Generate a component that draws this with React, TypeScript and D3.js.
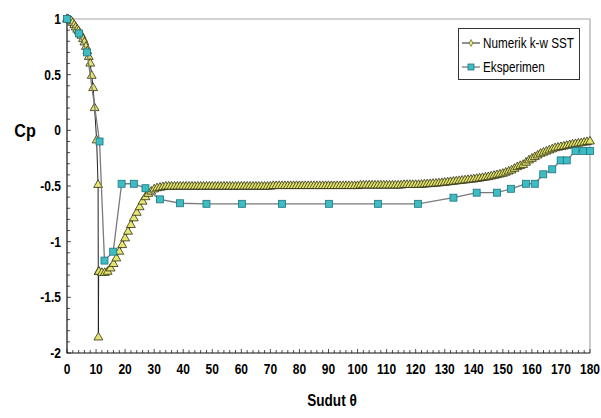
import React, { useEffect, useRef } from 'react';
import * as d3 from 'd3';

// Numerik k-w SST, first part read as [theta, Cp]
const numericStart: [number, number][] = [
  [0, 1.0], [0.5, 0.995], [1, 0.99], [1.5, 0.98], [2, 0.965], [2.5, 0.945],
  [3, 0.925], [3.5, 0.905], [4, 0.89], [4.5, 0.87], [5, 0.85], [5.5, 0.82],
  [6, 0.79], [6.5, 0.75], [7, 0.71], [7.5, 0.66], [8, 0.6], [8.5, 0.49],
  [9, 0.38], [9.5, 0.2], [10.2, -0.09], [10.7, -0.49], [10.8, -1.86], [10.9, -1.27],
];

// Numerik k-w SST from theta = 11 to 180, one value per degree
const numericStartAngle = 11;
const numericCp = [
  -1.27, -1.28, -1.28, -1.27, -1.24, -1.2, -1.15, -1.09, -1.03, -0.97,
  -0.91, -0.85, -0.79, -0.74, -0.69, -0.64, -0.6, -0.57, -0.55, -0.53,
  -0.52, -0.515, -0.51, -0.505, -0.505, -0.505, -0.505, -0.505, -0.505, -0.505,
  -0.505, -0.505, -0.505, -0.505, -0.505, -0.505, -0.505, -0.505, -0.505, -0.505,
  -0.505, -0.505, -0.505, -0.505, -0.505, -0.505, -0.505, -0.505, -0.505, -0.505,
  -0.505, -0.505, -0.505, -0.505, -0.505, -0.505, -0.505, -0.505, -0.505, -0.505,
  -0.5, -0.5, -0.5, -0.5, -0.5, -0.5, -0.5, -0.5, -0.5, -0.5,
  -0.5, -0.5, -0.5, -0.5, -0.5, -0.5, -0.5, -0.5, -0.5, -0.5,
  -0.5, -0.5, -0.5, -0.5, -0.5, -0.5, -0.5, -0.5, -0.5, -0.5,
  -0.495, -0.495, -0.495, -0.495, -0.495, -0.495, -0.495, -0.495, -0.495, -0.495,
  -0.495, -0.495, -0.495, -0.495, -0.495, -0.49, -0.49, -0.49, -0.49, -0.49,
  -0.49, -0.488, -0.486, -0.484, -0.482, -0.48, -0.478, -0.476, -0.473, -0.47,
  -0.467, -0.464, -0.461, -0.458, -0.455, -0.452, -0.449, -0.446, -0.443, -0.44,
  -0.436, -0.432, -0.428, -0.424, -0.42, -0.414, -0.408, -0.402, -0.396, -0.39,
  -0.38, -0.37, -0.36, -0.345, -0.33, -0.32, -0.31, -0.29, -0.27, -0.255,
  -0.24, -0.225, -0.21, -0.2, -0.19, -0.18, -0.17, -0.16, -0.155, -0.15,
  -0.145, -0.139, -0.133, -0.127, -0.123, -0.119, -0.115, -0.11, -0.105, -0.1,
];

// Eksperimen
const expTheta = [
  0, 4.1, 6.9, 11.2, 12.9, 15.9, 18.8, 23, 27, 32, 38.9, 48, 60.2, 74, 90.2,
  107, 120.8, 133, 141, 148, 152.8, 158, 161, 163.9, 167, 169.9, 172, 175, 177.7, 180,
];
const expCp = [
  1.0, 0.87, 0.7, -0.1, -1.17, -1.09, -0.48, -0.48, -0.52, -0.62, -0.655, -0.66, -0.66, -0.66, -0.66,
  -0.66, -0.66, -0.605, -0.56, -0.56, -0.525, -0.48, -0.48, -0.395, -0.35, -0.27, -0.27, -0.185, -0.185, -0.185,
];

const xTicks = [0, 10, 20, 30, 40, 50, 60, 70, 80, 90, 100, 110, 120, 130, 140, 150, 160, 170, 180];
const yTicks = [1, 0.5, 0, -0.5, -1, -1.5, -2];
const legendLabels = ['Numerik k-w SST', 'Eksperimen'];

const font = "'Liberation Sans', Arial, sans-serif";

// text squeezed horizontally, the reference uses a narrow face
function narrowText(sel, px, py, str, size, bold, anchor = 'start', squeeze = 0.8) {
  return sel.append('text')
    .attr('transform', `translate(${px},${py}) scale(${squeeze},1)`)
    .attr('text-anchor', anchor)
    .style('font-family', font)
    .style('font-weight', bold ? 'bold' : 'normal')
    .style('font-size', `${size}px`)
    .text(str);
}

function CpChart() {
  const ref = useRef<SVGSVGElement>(null);

  useEffect(() => {
    const svg = d3.select(ref.current);
    svg.selectAll('*').remove();

    const left = 67;
    const right = 590;
    const top = 19;
    const bottom = 353;

    const x = d3.scaleLinear().domain([0, 180]).range([left, right]);
    const y = d3.scaleLinear().domain([-2, 1]).range([bottom, top]);

    svg.append('rect').attr('width', 601).attr('height', 418).attr('fill', '#fff');

    // frame: gray top/right, black axes
    svg.append('path')
      .attr('d', `M${left},${top}H${right}V${bottom}`)
      .attr('fill', 'none')
      .attr('stroke', '#a8a8a8')
      .attr('stroke-width', 1.2);

    // inside ticks
    const g = svg.append('g');
    d3.range(0, 181, 2).forEach((t) => {
      const len = t % 10 === 0 ? 4 : 3;
      g.append('line')
        .attr('x1', x(t)).attr('x2', x(t))
        .attr('y1', bottom).attr('y2', bottom - len)
        .attr('stroke', '#222').attr('stroke-width', 0.8);
    });
    d3.range(-2, 1.001, 0.1).forEach((v) => {
      const major = Math.abs(Math.round(v * 2) - v * 2) < 0.01;
      g.append('line')
        .attr('x1', left).attr('x2', left + (major ? 4 : 3))
        .attr('y1', y(v)).attr('y2', y(v))
        .attr('stroke', '#222').attr('stroke-width', 0.8);
    });

    svg.append('path')
      .attr('d', `M${left},${top}V${bottom}H${right}`)
      .attr('fill', 'none')
      .attr('stroke', '#111')
      .attr('stroke-width', 1.2);

    // tick labels
    const labels = svg.append('g');
    xTicks.forEach((d) => narrowText(labels, x(d), 374, d, 15, true, 'middle'));
    yTicks.forEach((d) => narrowText(labels, 61, y(d) + 5, d, 15, true, 'end'));

    narrowText(svg, 25, 137, 'Cp', 19, true, 'middle', 0.85);
    narrowText(svg, 332, 406, 'Sudut \u03b8', 16, true, 'middle', 0.85);

    // numeric series
    const numeric: [number, number][] = numericStart.concat(
      numericCp.map((v, i) => [numericStartAngle + i, v] as [number, number]),
    );
    const line = d3.line<[number, number]>().x((d) => x(d[0])).y((d) => y(d[1]));
    const tri = d3.symbol().type(d3.symbolTriangle).size(34);

    svg.append('path')
      .attr('d', line(numeric))
      .attr('fill', 'none')
      .attr('stroke', '#222')
      .attr('stroke-width', 1);

    svg.append('g').selectAll('path')
      .data(numeric)
      .enter()
      .append('path')
      .attr('d', tri)
      .attr('transform', (d) => `translate(${x(d[0])},${y(d[1])})`)
      .attr('fill', '#e6e66e')
      .attr('stroke', '#2e2e14')
      .attr('stroke-width', 0.8);

    // experiment series
    const exp: [number, number][] = expTheta.map((t, i) => [t, expCp[i]]);
    svg.append('path')
      .attr('d', line(exp))
      .attr('fill', 'none')
      .attr('stroke', '#7a7a7a')
      .attr('stroke-width', 1.3);

    svg.append('g').selectAll('rect')
      .data(exp)
      .enter()
      .append('rect')
      .attr('x', (d) => x(d[0]) - 3.5)
      .attr('y', (d) => y(d[1]) - 3.5)
      .attr('width', 7)
      .attr('height', 7)
      .attr('fill', '#3dbcc4')
      .attr('stroke', '#1d7480')
      .attr('stroke-width', 0.8);

    // legend
    const lg = svg.append('g');
    lg.append('rect')
      .attr('x', 458.5).attr('y', 28.5)
      .attr('width', 121).attr('height', 51)
      .attr('fill', '#fff')
      .attr('stroke', '#333')
      .attr('stroke-width', 1);

    legendLabels.forEach((label, i) => {
      const cy = 43 + i * 24;
      lg.append('line')
        .attr('x1', 462).attr('x2', 480)
        .attr('y1', cy).attr('y2', cy)
        .attr('stroke', i === 0 ? '#222' : '#555')
        .attr('stroke-width', 1);
      if (i === 0) {
        lg.append('path')
          .attr('d', d3.symbol().type(d3.symbolDiamond).size(14)())
          .attr('transform', `translate(471,${cy})`)
          .attr('fill', '#e9e97c')
          .attr('stroke', '#4a4a20')
          .attr('stroke-width', 0.6);
      } else {
        lg.append('rect')
          .attr('x', 468).attr('y', cy - 3)
          .attr('width', 6).attr('height', 6)
          .attr('fill', '#3dbcc4')
          .attr('stroke', '#1d7480')
          .attr('stroke-width', 0.8);
      }
      narrowText(lg, 483, cy + 5, label, 15, false, 'start', 0.78);
    });
  }, []);

  return (
    <svg
      ref={ref}
      width={601}
      height={418}
      style={{ position: 'absolute', left: 0, top: 0, display: 'block' }}
    />
  );
}

export default function App() {
  return <CpChart />;
}
